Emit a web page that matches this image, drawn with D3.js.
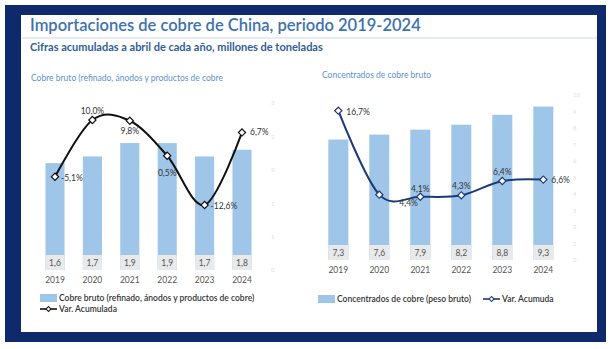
<!DOCTYPE html>
<html>
<head>
<meta charset="utf-8">
<script src="https://cdn.jsdelivr.net/npm/d3@7"></script>
<style>
  body { margin: 0; background: #fff; }
  svg { display: block; font-family: Lato, "Open Sans", sans-serif; }
</style>
</head>
<body>
<div id="chart"></div>
<script>
// datos: acumulado a abril, millones de toneladas
const years = ['2019', '2020', '2021', '2022', '2023', '2024'];
const cobreBruto = [1.6, 1.7, 1.9, 1.9, 1.7, 1.8];
const varCobreBruto = [-5.1, 10.0, 9.8, 0.5, -12.6, 6.7];
const concentrados = [7.3, 7.6, 7.9, 8.2, 8.8, 9.3];
const varConcentrados = [16.7, 4.4, 4.1, 4.3, 6.4, 6.6];

// ticks (casi invisibles) de los ejes secundarios
const brutoTicks = [0, 0.5, 1, 1.5, 2, 2.5];
const brutoTickLabels = ['0', '1', '1', '2', '2', '3'];
const concTicks = [0, 1, 2, 3, 4, 5, 6, 7, 8, 9, 10];
const concTickLabels = ['0', '1', '2', '3', '4', '5', '6', '7', '8', '9', '10'];

const fmt = v => v.toFixed(1).replace('.', ',');

const W = 614, H = 349;
const svg = d3.select('#chart').append('svg').attr('width', W).attr('height', H);

// marco azul
svg.append('rect').attr('x', 5).attr('y', 5).attr('width', 601).attr('height', 337).attr('fill', '#0f2a6c');
svg.append('rect').attr('x', 21).attr('y', 15).attr('width', 576).attr('height', 317).attr('fill', '#fff');

svg.append('text').attr('x', 30).attr('y', 31)
  .attr('font-size', 16.5).attr('font-weight', 600).attr('fill', '#3d72ad')
  .text('Importaciones de cobre de China, periodo 2019-2024');
svg.append('line').attr('x1', 22).attr('x2', 597).attr('y1', 38).attr('y2', 38)
  .attr('stroke', '#cfd9e6').attr('stroke-width', 1);
svg.append('text').attr('x', 30).attr('y', 51)
  .attr('font-size', 11).attr('font-weight', 700).attr('fill', '#2f6098')
  .text('Cifras acumuladas a abril de cada año, millones de toneladas');

const barColor = '#9fc5e8';

function panel(opt) {
  const g = svg.append('g');
  const x = d3.scaleBand().domain(years).range(opt.xRange).paddingInner(opt.padIn).paddingOuter(opt.padIn / 2);
  const yBar = d3.scaleLinear().domain(opt.barDomain).range(opt.barRange);
  const yLine = d3.scaleLinear().domain(opt.lineDomain).range(opt.lineRange);

  g.append('text').attr('x', opt.titleX).attr('y', opt.titleY)
    .attr('font-size', 8.5).attr('fill', '#5b93cc').text(opt.title);

  // eje secundario, muy tenue
  const ax = g.append('g').attr('transform', `translate(${opt.axisX},0)`)
    .call(d3.axisRight(yBar).tickValues(opt.ticks).tickSize(0)
      .tickFormat((d, i) => opt.tickLabels[i]));
  ax.select('.domain').remove();
  ax.selectAll('text').attr('fill', '#e0e0e0').attr('font-size', 6).attr('font-family', 'Lato');

  g.selectAll('rect.bar').data(opt.bars).join('rect').attr('class', 'bar')
    .attr('x', (d, i) => x(years[i])).attr('width', x.bandwidth())
    .attr('y', d => yBar(d)).attr('height', d => yBar(0) - yBar(d))
    .attr('fill', barColor);

  // cajas con el valor en la base de cada barra
  g.selectAll('rect.box').data(opt.bars).join('rect').attr('class', 'box')
    .attr('x', (d, i) => x(years[i])).attr('width', x.bandwidth())
    .attr('y', yBar(0) - 15).attr('height', 15)
    .attr('fill', '#e8e9eb');
  g.selectAll('text.val').data(opt.bars).join('text').attr('class', 'val')
    .attr('x', (d, i) => x(years[i]) + x.bandwidth() / 2).attr('y', yBar(0) - 4.5)
    .attr('text-anchor', 'middle').attr('font-size', 8.5).attr('fill', '#555')
    .text(d => fmt(d));

  const xAxis = g.append('g').attr('transform', `translate(0,${yBar(0)})`)
    .call(d3.axisBottom(x).tickSize(0).tickPadding(7));
  xAxis.select('.domain').remove();
  xAxis.selectAll('text').attr('font-size', 8.5).attr('fill', '#555').attr('font-family', 'Lato');

  const cx = i => x(years[i]) + x.bandwidth() / 2;
  const line = d3.line().x((d, i) => cx(i)).y(d => yLine(d)).curve(d3.curveCardinal.tension(0));
  g.append('path').datum(opt.line).attr('d', line)
    .attr('fill', 'none').attr('stroke', opt.lineColor).attr('stroke-width', 2);

  g.selectAll('path.mk').data(opt.line).join('path').attr('class', 'mk')
    .attr('d', d3.symbol(d3.symbolSquare, 26))
    .attr('transform', (d, i) => `translate(${cx(i)},${yLine(d)}) rotate(45)`)
    .attr('fill', '#fff').attr('stroke', opt.lineColor).attr('stroke-width', 1.2);

  g.selectAll('text.pct').data(opt.line).join('text').attr('class', 'pct')
    .attr('x', (d, i) => cx(i) + opt.labelPos[i][0])
    .attr('y', (d, i) => yLine(d) + opt.labelPos[i][1])
    .attr('text-anchor', (d, i) => opt.labelPos[i][0] === 0 ? 'middle' : 'start')
    .attr('dy', '0.35em').attr('font-size', 8.5).attr('fill', '#333')
    .text(d => fmt(d) + '%');
}

panel({
  title: 'Cobre bruto (refinado, ánodos y productos de cobre',
  titleX: 31, titleY: 81,
  xRange: [36.3, 260.7], padIn: 0.49,
  bars: cobreBruto, barDomain: [0, 3], barRange: [270, 69.6],
  line: varCobreBruto, lineDomain: [-15, 20], lineRange: [214, 82.4],
  lineColor: '#111',
  ticks: brutoTicks, tickLabels: brutoTickLabels, axisX: 268,
  labelPos: [[6, 1], [0, -9], [0, 10], [0, 17], [6, 1], [8, 0]]
});

panel({
  title: 'Concentrados de cobre bruto',
  titleX: 322, titleY: 78,
  xRange: [317.8, 563.8], padIn: 0.512,
  bars: concentrados, barDomain: [0, 10], barRange: [260, 95],
  line: varConcentrados, lineDomain: [-5, 20], lineRange: [258.85, 88.1],
  lineColor: '#1d3a78',
  ticks: concTicks, tickLabels: concTickLabels, axisX: 570,
  labelPos: [[8, 1], [20, 8], [0, -8], [0, -9], [0, -9], [8, 0]]
});

// leyendas
function legendBar(x, y, label) {
  svg.append('rect').attr('x', x).attr('y', y - 4).attr('width', 17).attr('height', 8).attr('fill', barColor);
  svg.append('text').attr('x', x + 19).attr('y', y).attr('dy', '0.35em')
    .attr('font-size', 8.5).attr('font-weight', 600).attr('fill', '#333').text(label);
}
function legendLine(x, y, color, label) {
  svg.append('line').attr('x1', x).attr('x2', x + 17).attr('y1', y).attr('y2', y)
    .attr('stroke', color).attr('stroke-width', 1.6);
  svg.append('path').attr('d', d3.symbol(d3.symbolSquare, 12))
    .attr('transform', `translate(${x + 8.5},${y}) rotate(45)`)
    .attr('fill', '#fff').attr('stroke', color).attr('stroke-width', 1);
  svg.append('text').attr('x', x + 19).attr('y', y).attr('dy', '0.35em')
    .attr('font-size', 8.5).attr('font-weight', 600).attr('fill', '#333').text(label);
}

legendBar(40, 298, 'Cobre bruto (refinado, ánodos y productos de cobre)');
legendLine(40, 309, '#111', 'Var. Acumulada');
legendBar(318, 299, 'Concentrados de cobre (peso bruto)');
legendLine(483, 299, '#1d3a78', 'Var. Acumuda');
</script>
</body>
</html>
